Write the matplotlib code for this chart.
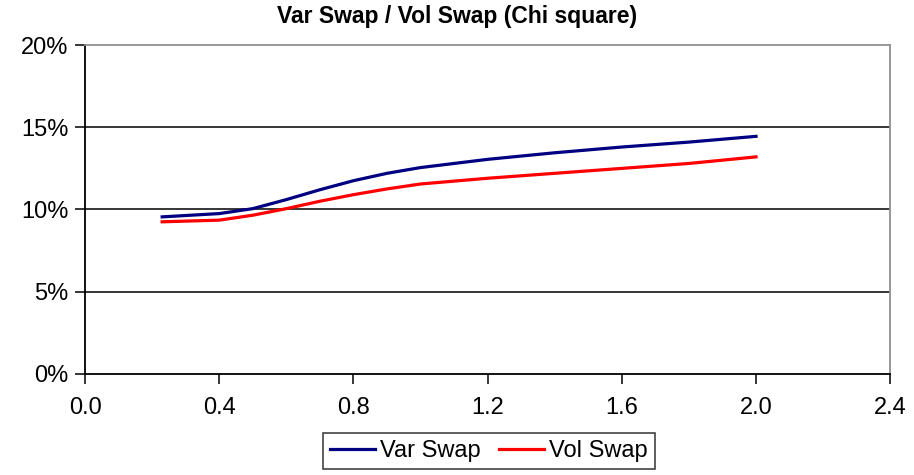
import matplotlib.pyplot as plt
from matplotlib.ticker import FuncFormatter

plt.rcParams['font.family'] = ['Liberation Sans', 'DejaVu Sans']

# Data (maturity vs strike, in %)
maturity = [0.23, 0.4, 0.5, 0.6, 0.7, 0.8, 0.9, 1.0, 1.2, 1.4, 1.6, 1.8, 2.0]
var_swap = [9.55, 9.75, 10.05, 10.6, 11.2, 11.75, 12.2, 12.55, 13.05, 13.45, 13.8, 14.1, 14.45]
vol_swap = [9.25, 9.35, 9.65, 10.05, 10.5, 10.9, 11.25, 11.55, 11.9, 12.2, 12.5, 12.8, 13.2]

x_ticks = [0.0, 0.4, 0.8, 1.2, 1.6, 2.0, 2.4]
y_ticks = [0, 5, 10, 15, 20]

fig = plt.figure(figsize=(9.14, 4.75), dpi=100)
ax = fig.add_axes([0.093, 0.213, 0.881, 0.692])

# Horizontal gridlines
for y in y_ticks[1:-1]:
    ax.axhline(y, color='black', lw=1.1, zorder=1)

ax.plot(maturity, var_swap, color='#000080', lw=2.3, label='Var Swap', zorder=3)
ax.plot(maturity, vol_swap, color='#FF0000', lw=2.3, label='Vol Swap', zorder=3)

ax.set_xlim(0, 2.4)
ax.set_ylim(0, 20)
ax.set_xticks(x_ticks)
ax.set_yticks(y_ticks)
ax.xaxis.set_major_formatter(FuncFormatter(lambda v, p: f'{v:.1f}'))
ax.yaxis.set_major_formatter(FuncFormatter(lambda v, p: f'{v:.0f}%'))
ax.tick_params(axis='both', labelsize=17, color='black', length=7, width=1.1,
               direction='out')
ax.tick_params(axis='x', pad=10)
ax.tick_params(axis='y', pad=5)

for side in ['left', 'bottom']:
    ax.spines[side].set_color('black')
    ax.spines[side].set_linewidth(1.3)
for side in ['top', 'right']:
    ax.spines[side].set_color('#909090')
    ax.spines[side].set_linewidth(1.3)

fig.text(0.5, 0.965, 'Var Swap / Vol Swap (Chi square)', ha='center', va='center',
         fontsize=16.5, fontweight='bold')

leg = ax.legend(loc='lower center', bbox_to_anchor=(0.535, -0.012),
                bbox_transform=fig.transFigure, ncol=2, fontsize=17,
                frameon=True, fancybox=False, handlelength=1.9,
                handletextpad=0.2, columnspacing=0.8, borderpad=0.3)
leg.get_frame().set_edgecolor('black')
leg.get_frame().set_linewidth(1.1)

fig.savefig('out.png', dpi=100)
